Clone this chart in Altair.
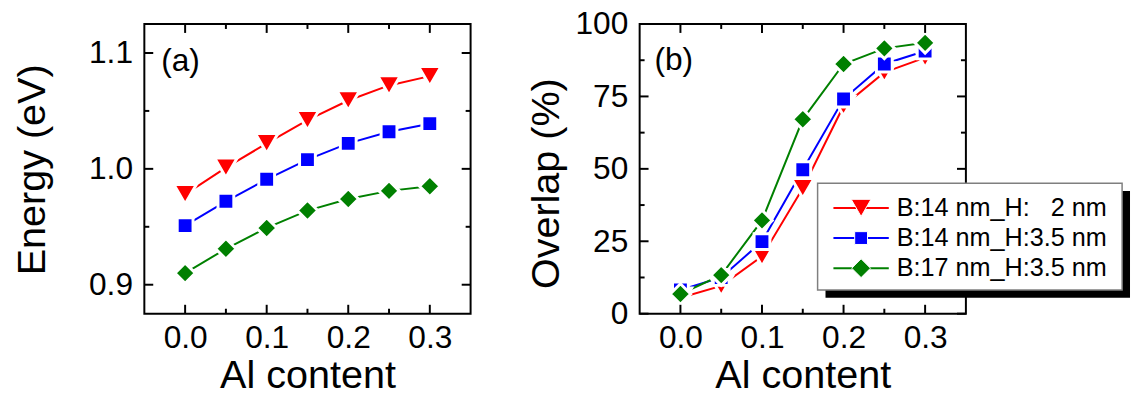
import altair as alt
import pandas as pd

# Al content of the barrier (x axis shared by both panels)
al_content = [0.00, 0.05, 0.10, 0.15, 0.20, 0.25, 0.30]

# Series: barrier width B and well width H
series_names = ["B:14 nm_H:\u00a0\u00a0\u00a02 nm", "B:14 nm_H:3.5 nm", "B:17 nm_H:3.5 nm"]
series_colors = ["#ff0000", "#0000ff", "#008000"]
series_shapes = ["triangle-down", "square", "diamond"]
marker_sizes = [520, 256, 430]
legend_marker_sizes = [400, 169, 361]

# (a) transition energy in eV
energy_b14_h2 = [0.978, 1.001, 1.022, 1.042, 1.059, 1.072, 1.080]
energy_b14_h35 = [0.951, 0.972, 0.991, 1.008, 1.022, 1.032, 1.039]
energy_b17_h35 = [0.910, 0.931, 0.949, 0.964, 0.974, 0.981, 0.985]

# (b) electron-hole wavefunction overlap in %
overlap_b14_h2 = [5.5, 9.6, 19.8, 43.3, 71.7, 83.3, 88.4]
overlap_b14_h35 = [8.2, 12.5, 24.9, 49.7, 74.1, 86.2, 90.7]
overlap_b17_h35 = [6.8, 13.3, 32.2, 67.1, 86.2, 91.6, 93.5]

# tick positions
x_major = [0.0, 0.1, 0.2, 0.3]
x_minor = [0.05, 0.15, 0.25]
energy_major = [0.9, 1.0, 1.1]
energy_minor = [0.95, 1.05]
overlap_major = [0, 25, 50, 75, 100]
overlap_minor = [12.5, 37.5, 62.5, 87.5]

W, H = 330, 293
FONT = "Liberation Sans"
MAJOR_LEN, MINOR_LEN = 9, 5


def long_table(values_by_series):
    rows = []
    for name, vals in zip(series_names, values_by_series):
        for x, v in zip(al_content, vals):
            rows.append({"al": x, "val": v, "series": name})
    return pd.DataFrame(rows)


color_scale = alt.Scale(domain=series_names, range=series_colors)
shape_scale = alt.Scale(domain=series_names, range=series_shapes)
size_scale = alt.Scale(type="ordinal", domain=series_names, range=marker_sizes)
legend_size_scale = alt.Scale(type="ordinal", domain=series_names, range=legend_marker_sizes)
x_scale = alt.Scale(domain=[-0.05, 0.35], nice=False, zero=False)

x_axis = alt.Axis(
    values=x_major, format=".1f", title="Al content", ticks=False, tickSize=0,
    domain=False, grid=False, labelPadding=9, labelFontSize=32,
    labelFont=FONT, labelColor="black", titleFont=FONT, titleFontSize=40,
    titleFontWeight="normal", titleColor="black", titleBaseline="alphabetic",
    titleY=75,
)


def inward_ticks(y_scale, y_axis, y_major, y_minor):
    layers = []
    xe = alt.X("al:Q", scale=x_scale, axis=x_axis)
    for vals, L in [(x_major, MAJOR_LEN), (x_minor, MINOR_LEN)]:
        base = alt.Chart(pd.DataFrame({"al": vals})).mark_rule(color="black", strokeWidth=2)
        layers.append(base.encode(x=xe, y=alt.value(H), y2=alt.value(H - L)))
        layers.append(base.encode(x=xe, y=alt.value(0), y2=alt.value(L)))
    ye = alt.Y("val:Q", scale=y_scale, axis=y_axis)
    for vals, L in [(y_major, MAJOR_LEN), (y_minor, MINOR_LEN)]:
        base = alt.Chart(pd.DataFrame({"val": vals})).mark_rule(color="black", strokeWidth=2)
        layers.append(base.encode(y=ye, x=alt.value(0), x2=alt.value(L)))
        layers.append(base.encode(y=ye, x=alt.value(W), x2=alt.value(W - L)))
    return layers


def panel(values_by_series, y_scale, y_axis, y_major, y_minor, tag, tag_xy, extra=()):
    df = long_table(values_by_series)
    x_enc = alt.X("al:Q", scale=x_scale, axis=x_axis)
    y_enc = alt.Y("val:Q", scale=y_scale, axis=y_axis)
    lines = alt.Chart(df).mark_line(strokeWidth=2).encode(
        x=x_enc, y=y_enc,
        color=alt.Color("series:N", scale=color_scale, legend=None),
        detail="series:N",
    )
    points = alt.Chart(df).mark_point(filled=True, opacity=1, stroke="white",
                                      strokeWidth=3).encode(
        x=x_enc, y=y_enc,
        color=alt.Color("series:N", scale=color_scale, legend=None),
        shape=alt.Shape("series:N", scale=shape_scale, legend=None),
        size=alt.Size("series:N", scale=size_scale, legend=None),
    )
    label = alt.Chart(pd.DataFrame({"k": [0]})).mark_text(
        text=tag, font=FONT, fontSize=32, align="left", baseline="alphabetic", color="black"
    ).encode(x=alt.value(tag_xy[0]), y=alt.value(tag_xy[1]))
    layers = [lines, points] + inward_ticks(y_scale, y_axis, y_major, y_minor) + [label] + list(extra)
    return alt.layer(*layers).properties(width=W, height=H)


energy_axis = alt.Axis(
    values=energy_major, format=".1f", title="Energy (eV)", ticks=False, tickSize=0, domain=False,
    grid=False, labelPadding=12, labelFontSize=32, labelFont=FONT, labelColor="black",
    titleFont=FONT, titleFontSize=40, titleFontWeight="normal", titleColor="black",
    titleBaseline="alphabetic", titleX=-101, titleY=147,
)
overlap_axis = alt.Axis(
    values=overlap_major, format="d", title="Overlap (%)", ticks=False, tickSize=0, domain=False,
    grid=False, labelPadding=12, labelFontSize=32, labelFont=FONT, labelColor="black",
    titleFont=FONT, titleFontSize=40, titleFontWeight="normal", titleColor="black",
    titleBaseline="alphabetic", titleX=-82, titleY=161,
)

energy_scale = alt.Scale(domain=[0.875, 1.125], nice=False, zero=False)
overlap_scale = alt.Scale(domain=[0, 100], nice=False, zero=False)

# legend box for panel (b), drawn in pixel space of the panel
LEG_X0, LEG_Y0, LEG_W, LEG_H = 180, 161, 308, 108
ROW0, ROW_STEP = 186, 30.5
legend_df = pd.DataFrame({"series": series_names, "row": list(range(len(series_names)))})
one = pd.DataFrame({"k": [0]})

shadow = alt.Chart(one).mark_rect(color="black").encode(
    x=alt.value(LEG_X0 + 8), x2=alt.value(LEG_X0 + LEG_W + 8),
    y=alt.value(LEG_Y0 + 8), y2=alt.value(LEG_Y0 + LEG_H + 8),
)
box = alt.Chart(one).mark_rect(fill="white", stroke="#7f7f7f", strokeWidth=1.5).encode(
    x=alt.value(LEG_X0), x2=alt.value(LEG_X0 + LEG_W),
    y=alt.value(LEG_Y0), y2=alt.value(LEG_Y0 + LEG_H),
)
leg_base = alt.Chart(legend_df).transform_calculate(ly=f"{ROW0} + datum.row * {ROW_STEP}")
leg_y = alt.Y("ly:Q", scale=None, axis=None)
leg_lines = leg_base.mark_rule(strokeWidth=2).encode(
    x=alt.value(LEG_X0 + 16), x2=alt.value(LEG_X0 + 72), y=leg_y,
    color=alt.Color("series:N", scale=color_scale, legend=None),
)
leg_marks = leg_base.mark_point(filled=True, opacity=1, stroke="white", strokeWidth=1).encode(
    x=alt.value(LEG_X0 + 44), y=leg_y,
    color=alt.Color("series:N", scale=color_scale, legend=None),
    shape=alt.Shape("series:N", scale=shape_scale, legend=None),
    size=alt.Size("series:N", scale=legend_size_scale, legend=None),
)
leg_text = leg_base.mark_text(font=FONT, fontSize=25.5, align="left", baseline="middle",
                              color="black").encode(
    x=alt.value(LEG_X0 + 80), y=leg_y, text="series:N",
)

panel_a = panel([energy_b14_h2, energy_b14_h35, energy_b17_h35], energy_scale, energy_axis,
                energy_major, energy_minor, "(a)", (17, 48))
panel_b = panel([overlap_b14_h2, overlap_b14_h35, overlap_b17_h35], overlap_scale, overlap_axis,
                overlap_major, overlap_minor, "(b)", (15, 47),
                extra=(shadow, box, leg_lines, leg_marks, leg_text)).resolve_scale(size="independent")

chart = alt.hconcat(panel_a, panel_b, spacing=54).properties(
    padding={"left": 12, "top": 5, "right": 0, "bottom": 0},
    background="white",
).configure(font=FONT).configure_view(stroke="black", strokeWidth=2)

chart.save("out.html", embed_options={"renderer": "svg", "actions": False})
